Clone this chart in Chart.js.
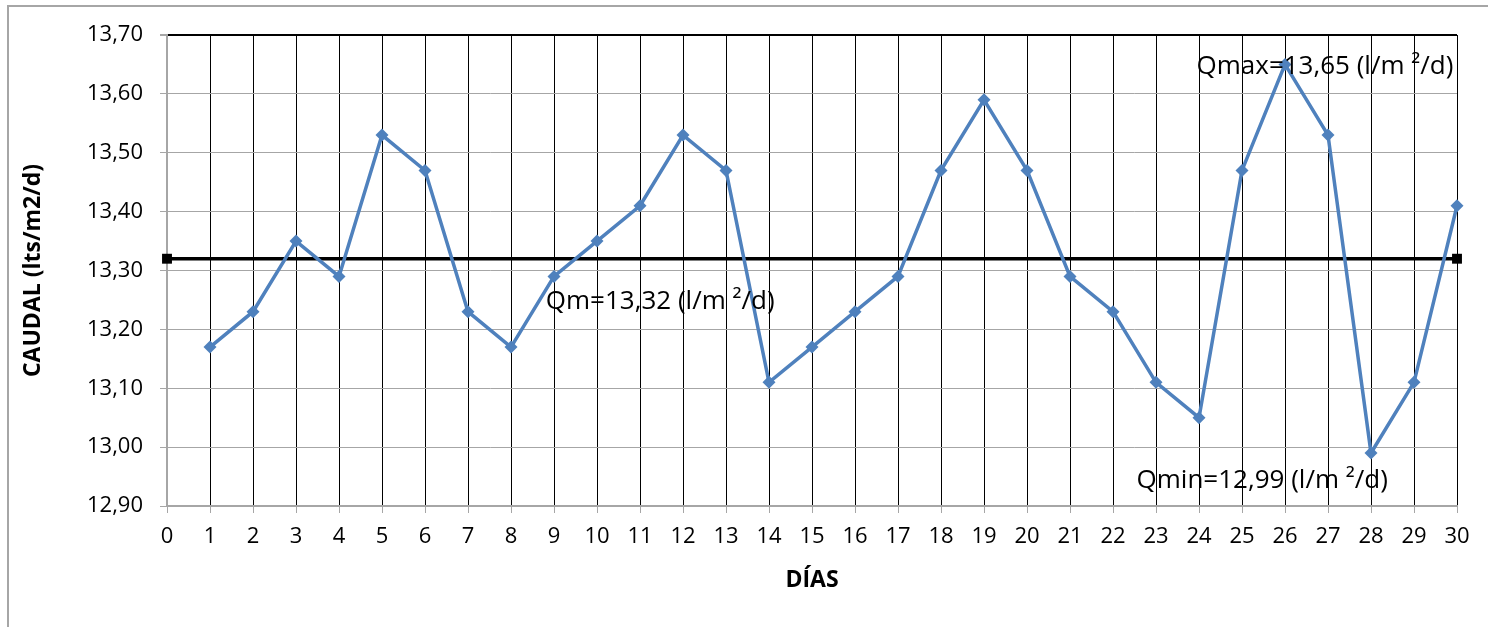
<!DOCTYPE html>
<html>
<head>
<meta charset="utf-8">
<script src="https://cdn.jsdelivr.net/npm/chart.js@4/dist/chart.umd.min.js"></script>
<style>
  html, body { margin: 0; padding: 0; background: #fff; }
  #wrap { width: 1488px; height: 627px; position: relative; }
</style>
</head>
<body>
<div id="wrap"><canvas id="c" width="1488" height="627"></canvas></div>
<script>
const dias = [1, 2, 3, 4, 5, 6, 7, 8, 9, 10, 11, 12, 13, 14, 15, 16, 17, 18, 19, 20, 21, 22, 23, 24, 25, 26, 27, 28, 29, 30];
const caudal = [13.17, 13.23, 13.35, 13.29, 13.53, 13.47, 13.23, 13.17, 13.29, 13.35, 13.41, 13.53, 13.47, 13.11, 13.17,
                13.23, 13.29, 13.47, 13.59, 13.47, 13.29, 13.23, 13.11, 13.05, 13.47, 13.65, 13.53, 12.99, 13.11, 13.41];
const mediaX = [0, 30];
const qm = 13.32;
const notas = [
    { text: "Qmax=13,65 (l/m \u00b2/d)", x: 26.93, y: 13.647 },
    { text: "Qm=13,32 (l/m \u00b2/d)", x: 11.47, y: 13.247 },
    { text: "Qmin=12,99 (l/m \u00b2/d)", x: 25.47, y: 12.943 },
];

const FONT = "'Open Sans', 'DejaVu Sans', sans-serif";

const marco = {
    id: "marco",
    beforeDraw(chart) {
        const ctx = chart.ctx;
        ctx.save();
        ctx.strokeStyle = "#a6a6a6";
        ctx.lineWidth = 2;
        ctx.beginPath();
        ctx.moveTo(8, 627);
        ctx.lineTo(8, 6);
        ctx.lineTo(1488, 6);
        ctx.stroke();
        ctx.restore();
    },
};

const textos = {
    id: "textos",
    afterDatasetsDraw(chart) {
        const { ctx, scales: { x, y } } = chart;
        ctx.save();
        ctx.font = "26px " + FONT;
        ctx.fillStyle = "#000";
        ctx.textAlign = "center";
        ctx.textBaseline = "middle";
        notas.forEach(n => ctx.fillText(n.text, x.getPixelForValue(n.x), y.getPixelForValue(n.y)));
        ctx.restore();
    },
};

new Chart(document.getElementById("c"), {
    type: "line",
    data: {
        datasets: [
            {
                label: "Caudal",
                data: dias.map((d, i) => ({ x: d, y: caudal[i] })),
                borderColor: "#4f81bd",
                backgroundColor: "#4f81bd",
                borderWidth: 3.5,
                pointStyle: "rectRot",
                pointRadius: 6.5,
                pointHoverRadius: 6.5,
                pointBorderWidth: 0,
                tension: 0,
                clip: false,
            },
            {
                label: "Qm",
                data: mediaX.map(d => ({ x: d, y: qm })),
                borderColor: "#000",
                backgroundColor: "#000",
                borderWidth: 3.5,
                pointStyle: "rect",
                pointRadius: 7,
                pointHoverRadius: 7,
                pointBorderWidth: 0,
                clip: false,
                order: 1,
            },
        ],
    },
    options: {
        responsive: false,
        animation: false,
        events: [],
        layout: { padding: { top: 35, right: 31, left: 0, bottom: 0 } },
        plugins: {
            legend: { display: false },
            tooltip: { enabled: false },
        },
        scales: {
            x: {
                type: "linear",
                min: 0,
                max: 30,
                afterFit: s => { s.height = 121; },
                ticks: {
                    stepSize: 1,
                    autoSkip: false,
                    maxRotation: 0,
                    padding: 11,
                    color: "#000",
                    font: { family: FONT, size: 22 },
                },
                grid: {
                    color: "#000",
                    lineWidth: 1,
                    tickColor: "#a6a6a6",
                    tickLength: 7,
                },
                border: { color: "#a6a6a6", width: 2 },
                title: {
                    display: true,
                    text: "DÍAS",
                    color: "#000",
                    font: { family: FONT, size: 23, weight: "bold" },
                    padding: { top: 0, bottom: 33 },
                },
            },
            y: {
                min: 12.9,
                max: 13.7,
                afterFit: s => { s.width = 167; },
                ticks: {
                    stepSize: 0.1,
                    padding: 17,
                    color: "#000",
                    font: { family: FONT, size: 22 },
                    callback: v => v.toFixed(2).replace(".", ","),
                },
                grid: {
                    color: ctx => (ctx.tick && Math.abs(ctx.tick.value - 13.7) < 1e-6 ? "#000" : "#a6a6a6"),
                    lineWidth: ctx => (ctx.tick && Math.abs(ctx.tick.value - 13.7) < 1e-6 ? 2 : 1),
                    tickColor: "#a6a6a6",
                    tickLength: 7,
                },
                border: { color: "#a6a6a6", width: 2 },
                title: {
                    display: true,
                    text: "CAUDAL (lts/m2/d)",
                    color: "#000",
                    font: { family: FONT, size: 23, weight: "bold" },
                    padding: { top: 20, bottom: 0 },
                },
            },
        },
    },
    plugins: [marco, textos],
});
</script>
</body>
</html>
